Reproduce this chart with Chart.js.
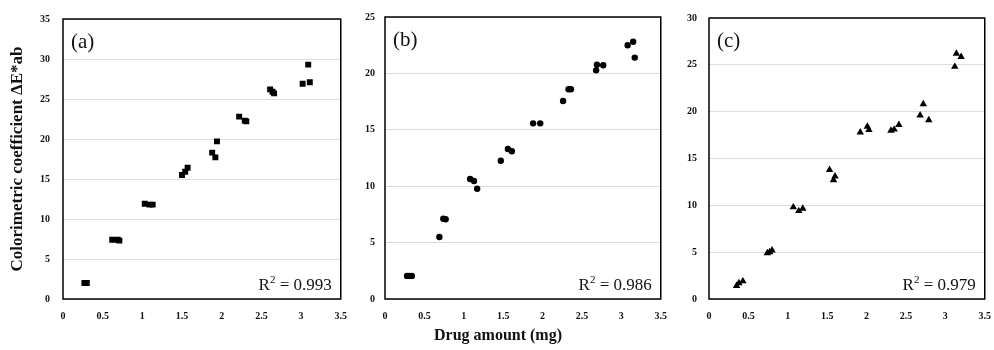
<!DOCTYPE html>
<html>
<head>
<meta charset="utf-8">
<script src="https://cdn.jsdelivr.net/npm/chart.js@4.4.1/dist/chart.umd.min.js"></script>
<style>
  body { margin: 0; background: #fff; }
  #wrap { position: relative; width: 994px; height: 350px; }
  canvas { position: absolute; top: 0; }
  #xTitle {
    position: absolute; top: 326px; left: 398px; width: 200px;
    text-align: center; line-height: 20px;
    font: bold 16px "Liberation Serif", serif; color: #111;
  }
</style>
</head>
<body>
<div id="wrap">
  <canvas id="chartA" width="350" height="350" style="left:0"></canvas>
  <canvas id="chartB" width="320" height="350" style="left:350px"></canvas>
  <canvas id="chartC" width="324" height="350" style="left:670px"></canvas>
  <div id="xTitle">Drug amount (mg)</div>
</div>
<script>
// shared axis values
const xTicks = [0, 0.5, 1, 1.5, 2, 2.5, 3, 3.5];
const panelLabels = ['(a)', '(b)', '(c)'];
const rSquared = ['0.993', '0.986', '0.979'];
const yMax = [35, 25, 30];

// (a) squares
const drugA = [0.27, 0.29, 0.30, 0.62, 0.69, 0.71, 1.03, 1.09, 1.13, 1.50, 1.54, 1.57,
               1.88, 1.92, 1.94, 2.22, 2.29, 2.31, 2.61, 2.64, 2.66, 3.02, 3.09, 3.11];
const deltaA = [2.0, 2.0, 2.0, 7.4, 7.4, 7.3, 11.9, 11.8, 11.8, 15.5, 15.9, 16.4,
                18.3, 17.7, 19.7, 22.8, 22.3, 22.2, 26.2, 25.9, 25.7, 26.9, 29.3, 27.1];

// (b) circles
const drugB = [0.28, 0.31, 0.34, 0.69, 0.74, 0.77, 1.08, 1.13, 1.17, 1.47, 1.56, 1.61,
               1.88, 1.97, 2.26, 2.33, 2.36, 2.68, 2.69, 2.77, 3.08, 3.15, 3.17];
const deltaB = [2.05, 2.05, 2.05, 5.5, 7.12, 7.07, 10.64, 10.46, 9.78, 12.26, 13.3, 13.1,
                15.57, 15.57, 17.55, 18.6, 18.6, 20.27, 20.77, 20.72, 22.5, 22.8, 21.4];

// (c) triangles
const drugC = [0.35, 0.38, 0.43, 0.74, 0.77, 0.80, 1.07, 1.14, 1.19, 1.53, 1.58, 1.60,
               1.92, 2.01, 2.03, 2.31, 2.35, 2.41, 2.68, 2.72, 2.79, 3.12, 3.14, 3.20];
const deltaC = [1.4, 1.7, 1.9, 4.9, 5.0, 5.2, 9.8, 9.4, 9.65, 13.8, 12.7, 13.1,
                17.8, 18.4, 18.05, 17.98, 18.1, 18.6, 19.6, 20.8, 19.1, 24.8, 26.2, 25.85];

const serif = '"Liberation Serif", serif';
const tickFont = { family: serif, size: 10, weight: 'bold' };

// box around the plot area, panel letter and R² note
const framePlugin = {
  id: 'frame',
  beforeDatasetsDraw(chart) {
    const { ctx, chartArea: a } = chart;
    ctx.save();
    ctx.strokeStyle = '#000';
    ctx.lineWidth = 1.5;
    ctx.strokeRect(a.left, a.top, a.right - a.left, a.bottom - a.top);
    ctx.restore();
  },
  afterDraw(chart, args, opts) {
    const { ctx, chartArea: a } = chart;
    ctx.save();
    ctx.fillStyle = '#111';
    ctx.font = '21px ' + serif;
    ctx.textAlign = 'left';
    ctx.textBaseline = 'middle';
    ctx.fillText(opts.label, a.left + 8, a.top + 23);

    const big = '17px ' + serif, small = '11px ' + serif;
    const rest = ' = ' + opts.r2;
    ctx.font = big;
    const wR = ctx.measureText('R').width;
    const wRest = ctx.measureText(rest).width;
    ctx.font = small;
    const w2 = ctx.measureText('2').width;
    let x = a.right - 9 - (wR + w2 + wRest);
    const y = a.bottom - 9;
    ctx.textBaseline = 'alphabetic';
    ctx.font = big; ctx.fillText('R', x, y); x += wR;
    ctx.font = small; ctx.fillText('2', x, y - 7); x += w2;
    ctx.font = big; ctx.fillText(rest, x, y);
    ctx.restore();
  }
};

function makePanel(id, idx, xs, ys, style, radius, axisWidth, tickPad, yTitle) {
  const points = xs.map((x, i) => ({ x: x, y: ys[i] }));
  return new Chart(document.getElementById(id), {
    type: 'scatter',
    data: {
      datasets: [{
        data: points,
        pointStyle: style,
        pointRadius: radius,
        pointHoverRadius: radius,
        backgroundColor: '#000',
        borderColor: '#000',
        borderWidth: 0
      }]
    },
    options: {
      responsive: false,
      animation: false,
      devicePixelRatio: 1,
      layout: { padding: { top: 17, right: 8, left: 0, bottom: 0 } },
      plugins: {
        legend: { display: false },
        tooltip: { enabled: false },
        frame: { label: panelLabels[idx], r2: rSquared[idx] }
      },
      scales: {
        x: {
          type: 'linear',
          min: 0,
          max: 3.5,
          afterBuildTicks: s => { s.ticks = xTicks.map(v => ({ value: v })); },
          afterFit: s => { s.height = 51; },
          grid: { display: false },
          border: { display: false },
          ticks: {
            padding: 3, font: tickFont, color: '#111', maxRotation: 0,
            callback: v => String(v)
          }
        },
        y: {
          min: 0,
          max: yMax[idx],
          afterFit: s => { s.width = axisWidth; },
          grid: { color: '#dcdcdc', drawTicks: false },
          border: { display: false },
          ticks: { stepSize: 5, padding: tickPad, font: tickFont, color: '#111' },
          title: {
            display: !!yTitle,
            text: yTitle || '',
            color: '#111',
            font: { family: serif, size: 17, weight: 'bold' },
            padding: { top: 7, bottom: 0 }
          }
        }
      }
    },
    plugins: [framePlugin]
  });
}

makePanel('chartA', 0, drugA, deltaA, 'rect', 4.2, 63, 13, 'Colorimetric coefficient ΔE*ab');
makePanel('chartB', 1, drugB, deltaB, 'circle', 3.2, 35, 10);
makePanel('chartC', 2, drugC, deltaC, 'triangle', 4.3, 39, 12);
</script>
</body>
</html>
